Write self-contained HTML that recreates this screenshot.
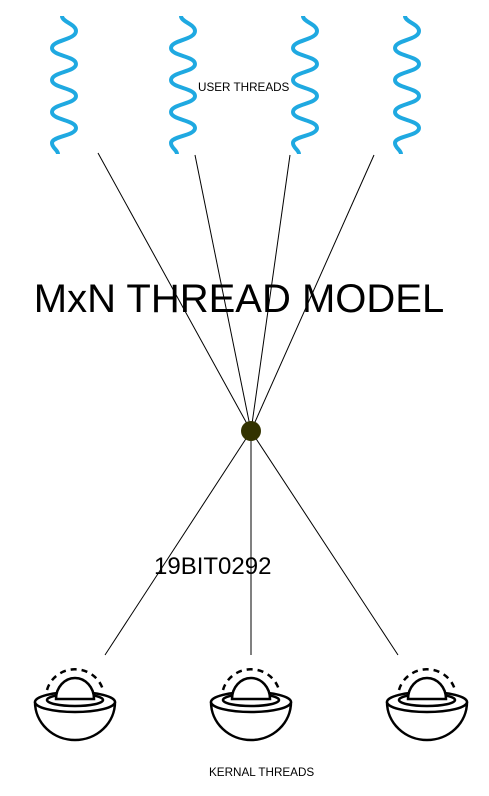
<!DOCTYPE html>
<html><head><style>body{margin:0;background:#fff}svg{display:block}</style></head><body>
<svg width="489" height="796" viewBox="0 0 489 796" xmlns="http://www.w3.org/2000/svg" font-family="Liberation Sans, sans-serif">
<defs>
<path id="w" d="M-2,16 C-2,22 12,24 12,31 C12,40 -12,40 -12,48 C-12,56 12,56 12,64 C12,72 -12,72 -12,80 C-12,88 12,88 12,96 C12,104 -12,104 -12,112 C-12,120 12,120 12,128 C12,136 -12,136 -12,143 C-12,148 -6,150 -6,154" fill="none" stroke="#1fa9e1" stroke-width="4"/>
<g id="k" fill="none" stroke="#000" stroke-width="2.5">
<path d="M-40,702 A40,38 0 0 0 40,702"/>
<ellipse cx="0" cy="702" rx="40" ry="10" fill="#fff"/>
<ellipse cx="0" cy="700" rx="28" ry="6"/>
<path d="M-19,699 A19,21 0 0 1 19,699 Z" fill="#fff"/>
<path d="M-28,690 A29,28 0 0 1 28,690" stroke-dasharray="6,5"/>
</g>
</defs>
<use href="#w" x="64"/><use href="#w" x="183"/><use href="#w" x="305"/><use href="#w" x="407"/>
<g stroke="#000" stroke-width="1">
<line x1="98" y1="153" x2="251" y2="431"/>
<line x1="195" y1="155" x2="251" y2="431"/>
<line x1="290" y1="155" x2="251" y2="431"/>
<line x1="374" y1="155" x2="251" y2="431"/>
<line x1="251" y1="431" x2="105" y2="655"/>
<line x1="251" y1="431" x2="251" y2="655"/>
<line x1="251" y1="431" x2="398" y2="655"/>
</g>
<circle cx="251" cy="431" r="10" fill="#333300"/>
<use href="#k" x="75"/><use href="#k" x="251"/><use href="#k" x="427"/>
<text x="198" y="91" font-size="11.7">USER THREADS</text>
<text x="239" y="312" font-size="40" text-anchor="middle">MxN THREAD MODEL</text>
<text x="154" y="574" font-size="24">19BIT0292</text>
<text x="209" y="776" font-size="11.7">KERNAL THREADS</text>
</svg>
</body></html>
